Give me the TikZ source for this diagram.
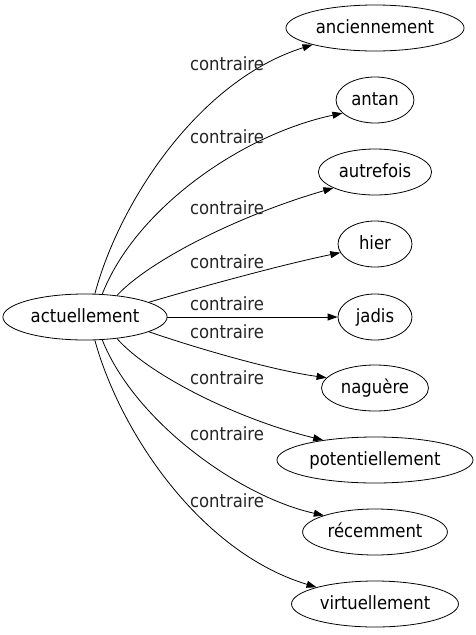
\documentclass[tikz,border=0pt]{standalone}
\usepackage{fontspec}
\setmainfont{DejaVu Sans Condensed}
\usetikzlibrary{shapes.geometric, arrows.meta}

\begin{document}
\begin{tikzpicture}[x=1pt, y=-1pt,
    word/.style={draw, ellipse, line width=0.8pt, font=\fontsize{18.3}{21}\selectfont,
        inner xsep=3.8pt, inner ysep=2pt, minimum width=74pt, minimum height=46pt,
        text height=13pt, text depth=3pt},
    rel/.style={font=\fontsize{18.3}{21}\selectfont, text=black!85, inner sep=0pt},
    link/.style={-{Triangle[length=10pt, width=7pt]}, line width=0.8pt}]
    \useasboundingbox (0,0) rectangle (476,635);

    % Source node (left)
    \node[word] (act) at (85,317) {actuellement};

    % Target nodes (right column)
    \node[word] (anc) at (375,28) {anciennement};
    \node[word] (antan) at (375,100) {antan};
    \node[word] (autr) at (375,172) {autrefois};
    \node[word] (hier) at (375,244) {hier};
    \node[word] (jadis) at (375,317) {jadis};
    \node[word] (nag) at (375,388) {naguère};
    \node[word] (pot) at (375,460) {potentiellement};
    \node[word] (rec) at (375,532) {récemment};
    \node[word] (virt) at (375,604) {virtuellement};

    % Edges
    \draw[link] (act.67.7) .. controls (120,200) and (200,80) .. (anc.195);
    \draw[link] (act.53.5) .. controls (135,210) and (240,135) .. (antan.202);
    \draw[link] (act.34) .. controls (150,260) and (240,215) .. (autr.201);
    \draw[link] (act.13.6) .. controls (190,290) and (280,265) .. (hier.194);
    \draw[link] (act.east) -- (jadis.west);
    \draw[link] (act.-13.6) .. controls (190,346) and (270,370) .. (nag.168);
    \draw[link] (act.-34) .. controls (150,376) and (240,420) .. (pot.159);
    \draw[link] (act.-53.5) .. controls (135,422) and (240,497) .. (rec.162);
    \draw[link] (act.-67.7) .. controls (120,432) and (200,552) .. (virt.164);

    % Edge labels
    \node[rel] (l1) at (227,64) {contraire};
    \node[rel] (l2) at (227,137) {contraire};
    \node[rel] (l3) at (227,208) {contraire};
    \node[rel] (l4) at (227,262) {contraire};
    \node[rel] (l5) at (227,304) {contraire};
    \node[rel] (l6) at (227,332) {contraire};
    \node[rel] (l7) at (227,378) {contraire};
    \node[rel] (l8) at (227,434) {contraire};
    \node[rel] (l9) at (227,501) {contraire};
\end{tikzpicture}
\end{document}
